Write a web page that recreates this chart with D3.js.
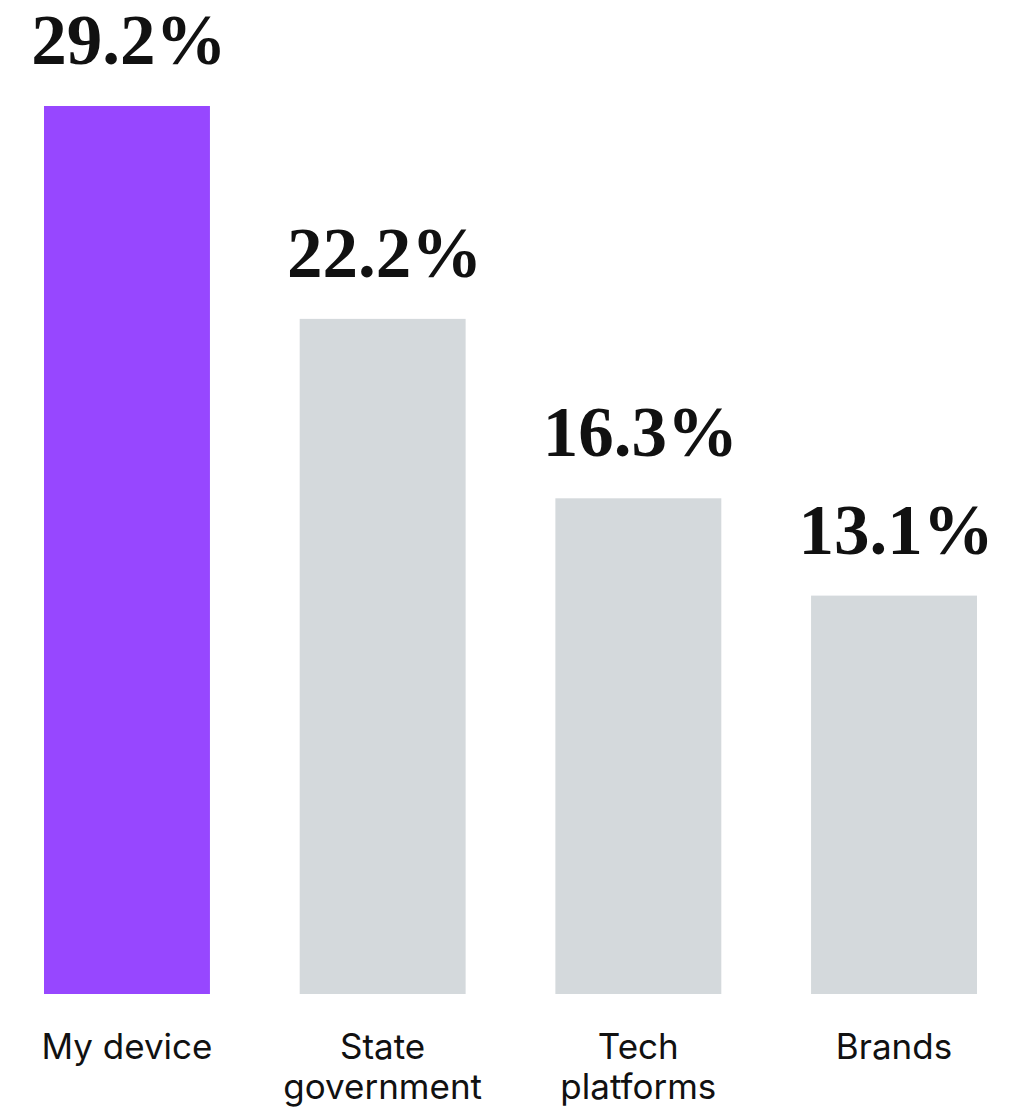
<!DOCTYPE html>
<html>
<head>
<meta charset="utf-8">
<script src="https://cdn.jsdelivr.net/npm/d3@7"></script>
<style>
  body { margin: 0; background: #fff; }
</style>
</head>
<body>
<div id="chart"></div>
<script>
// data
const categories = ["My device", "State government", "Tech platforms", "Brands"];
const labelLines = [["My device"], ["State", "government"], ["Tech", "platforms"], ["Brands"]];
const values = [29.2, 22.2, 16.3, 13.1];
const highlight = "My device";

const width = 1015;
const height = 1113;

const svg = d3.select("#chart")
    .append("svg")
    .attr("width", width)
    .attr("height", height);

const x = d3.scaleBand()
    .domain(categories)
    .range([44, 977])
    .paddingInner(0.351)
    .paddingOuter(0);

const y = d3.scaleLinear()
    .domain([0, 29.2])
    .range([994, 106]);

svg.selectAll("rect.bar")
    .data(categories)
    .enter()
    .append("rect")
    .attr("class", "bar")
    .attr("x", d => x(d))
    .attr("y", (d, i) => y(values[i]))
    .attr("width", x.bandwidth())
    .attr("height", (d, i) => y(0) - y(values[i]))
    .attr("fill", d => d === highlight ? "#9747ff" : "#d4d9dc");

// value labels above bars
svg.selectAll("text.value")
    .data(categories)
    .enter()
    .append("text")
    .attr("class", "value")
    .attr("x", d => x(d) + x.bandwidth() / 2 + 2)
    .attr("y", (d, i) => y(values[i]) - 42)
    .attr("text-anchor", "middle")
    .attr("font-family", "'Liberation Serif', serif")
    .attr("font-weight", "bold")
    .attr("font-size", 71)
    .attr("fill", "#111")
    .text((d, i) => values[i].toFixed(1) + "%");

// category labels
const cat = svg.selectAll("text.cat")
    .data(categories)
    .enter()
    .append("text")
    .attr("class", "cat")
    .attr("x", d => x(d) + x.bandwidth() / 2)
    .attr("y", 1059)
    .attr("text-anchor", "middle")
    .attr("font-family", "Inter, 'Noto Sans', sans-serif")
    .attr("font-weight", 400)
    .attr("font-size", 35)
    .attr("fill", "#111");

cat.each(function(d, i) {
    d3.select(this).selectAll("tspan")
        .data(labelLines[i])
        .enter()
        .append("tspan")
        .attr("x", x(d) + x.bandwidth() / 2)
        .attr("dy", (t, j) => j === 0 ? 0 : 40)
        .text(t => t);
});
</script>
</body>
</html>
